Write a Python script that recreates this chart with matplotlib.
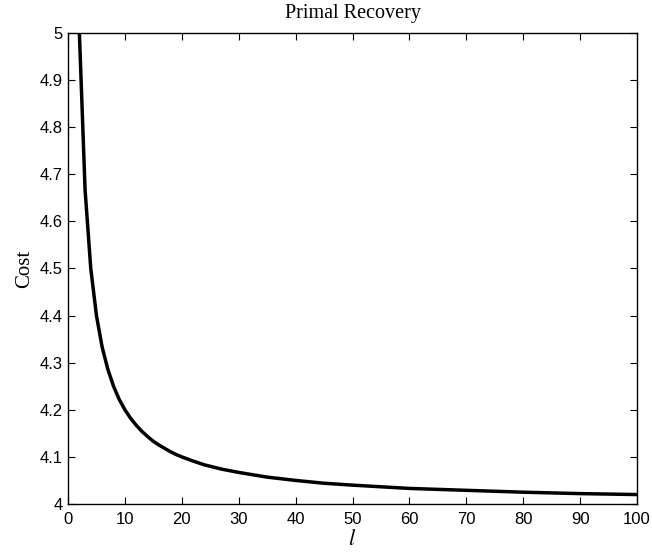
import matplotlib
matplotlib.use("Agg")
from matplotlib import pyplot as plt

# values
l_vals = [2, 3, 4, 5, 6, 7, 8, 9, 10, 11, 12, 13, 14, 15, 16, 17, 18, 19, 20,
          22, 24, 27, 30, 35, 40, 45, 50, 60, 70, 80, 90, 100]
cost = [5.0, 4.667, 4.5, 4.4, 4.333, 4.286, 4.25, 4.222, 4.2, 4.182, 4.167,
        4.154, 4.143, 4.133, 4.125, 4.118, 4.111, 4.105, 4.1, 4.091, 4.083,
        4.074, 4.067, 4.057, 4.05, 4.044, 4.04, 4.033, 4.029, 4.025, 4.022,
        4.02]
x_ticks = list(range(0, 101, 10))
y_ticks = [4, 4.1, 4.2, 4.3, 4.4, 4.5, 4.6, 4.7, 4.8, 4.9, 5]
y_labels = ["4", "4.1", "4.2", "4.3", "4.4", "4.5", "4.6", "4.7", "4.8", "4.9", "5"]

plt.rcParams["mathtext.fontset"] = "stix"

fig = plt.figure(figsize=(6.52, 5.54), dpi=100)
ax = fig.add_axes([0.1043, 0.0903, 0.8727, 0.8501])

ax.plot(l_vals, cost, color="black", linewidth=2.5, solid_joinstyle="round")

ax.set_xlim(0, 100)
ax.set_ylim(4, 5)
ax.set_xticks(x_ticks)
ax.set_yticks(y_ticks)
ax.set_yticklabels(y_labels)
ax.tick_params(direction="in", top=True, right=True, length=5, width=0.8,
               labelsize=12)
ax.tick_params(axis="x", pad=6)
ax.tick_params(axis="y", pad=4)
for lab in ax.get_xticklabels() + ax.get_yticklabels():
    lab.set_family("Liberation Sans")
for sp in ax.spines.values():
    sp.set_linewidth(1.0)

ax.set_title("Primal Recovery", family="Liberation Serif", fontsize=14.5, pad=11)
ax.set_ylabel("Cost", family="Liberation Serif", fontsize=15, labelpad=4)
ax.set_xlabel("$l$", fontsize=16, labelpad=1)

fig.savefig("out.png", dpi=100)
